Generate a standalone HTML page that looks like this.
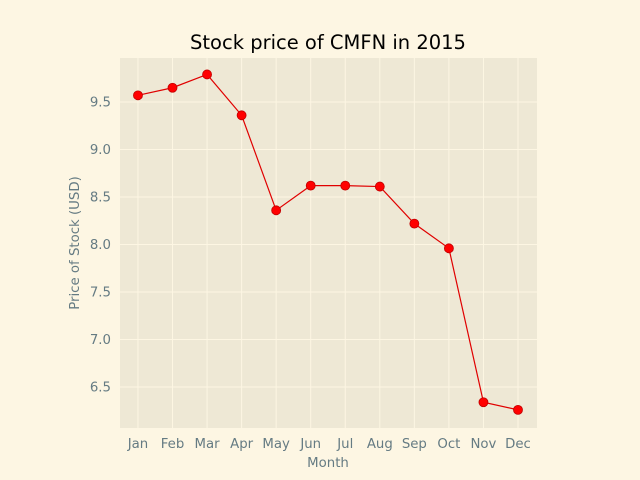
<!DOCTYPE html>
<html><head><meta charset="utf-8"><style>
body{margin:0;background:#FDF6E3;}
svg{display:block;font-family:"DejaVu Sans","Liberation Sans",sans-serif;}
</style></head><body>
<svg id="chart" width="640" height="480">
<rect width="640" height="480" fill="#FDF6E3"/>
<rect x="120" y="58" width="417" height="370" fill="#EEE8D5"/>
<g id="grid"></g><g id="ticks"></g><g id="series"></g>
<text x="328" y="49" text-anchor="middle" font-size="19.5" fill="#000">Stock price of CMFN in 2015</text>
<text x="328" y="467" text-anchor="middle" font-size="13.3" fill="#657b83">Month</text>
<text x="0" y="0" transform="translate(79,243) rotate(-90)" text-anchor="middle" font-size="13.3" fill="#657b83">Price of Stock (USD)</text>
</svg>
<script>
const months=["Jan","Feb","Mar","Apr","May","Jun","Jul","Aug","Sep","Oct","Nov","Dec"];
const prices=[9.57,9.65,9.79,9.36,8.36,8.62,8.62,8.61,8.22,7.96,6.34,6.26];
const yTicks=[6.5,7.0,7.5,8.0,8.5,9.0,9.5];
const L=120,R=537,T=58,B=428,xmin=-0.52,xmax=11.55,ymin=6.069,ymax=9.963;
const xs=i=>L+(i-xmin)/(xmax-xmin)*(R-L);
const ys=v=>B-(v-ymin)/(ymax-ymin)*(B-T);
const NS="http://www.w3.org/2000/svg";
function mk(t,a,p){const e=document.createElementNS(NS,t);for(const k in a)e.setAttribute(k,a[k]);p.appendChild(e);return e;}
const grid=document.getElementById('grid'),ticks=document.getElementById('ticks'),ser=document.getElementById('series');
yTicks.forEach(v=>{const y=ys(v);
 const g=mk('line',{x1:L,x2:R,y1:y,y2:y,stroke:'#FDF6E3','stroke-width':1},grid);
 
 
 const t=mk('text',{x:L-9,y:y+4.5,'text-anchor':'end','font-size':13.3,fill:'#657b83'},ticks);
 t.textContent=v.toFixed(1);
 
 
});
months.forEach((m,i)=>{const x=xs(i);
 const g=mk('line',{x1:x,x2:x,y1:T,y2:B,stroke:'#FDF6E3','stroke-width':1},grid);
 
 
 const t=mk('text',{x:x,y:B+20,'text-anchor':'middle','font-size':13.3,fill:'#657b83'},ticks);
 t.textContent=m;
 
 
});
const pl=mk('polyline',{points:prices.map((v,i)=>xs(i)+','+ys(v)).join(' '),fill:'none',stroke:'#e00000','stroke-width':1.2},ser);


prices.forEach((v,i)=>{
 const c=mk('circle',{cx:xs(i),cy:ys(v),r:4.5,fill:'#ff0000',stroke:'#c00000','stroke-width':0.8},ser);
 
 
});
</script>
</body></html>
